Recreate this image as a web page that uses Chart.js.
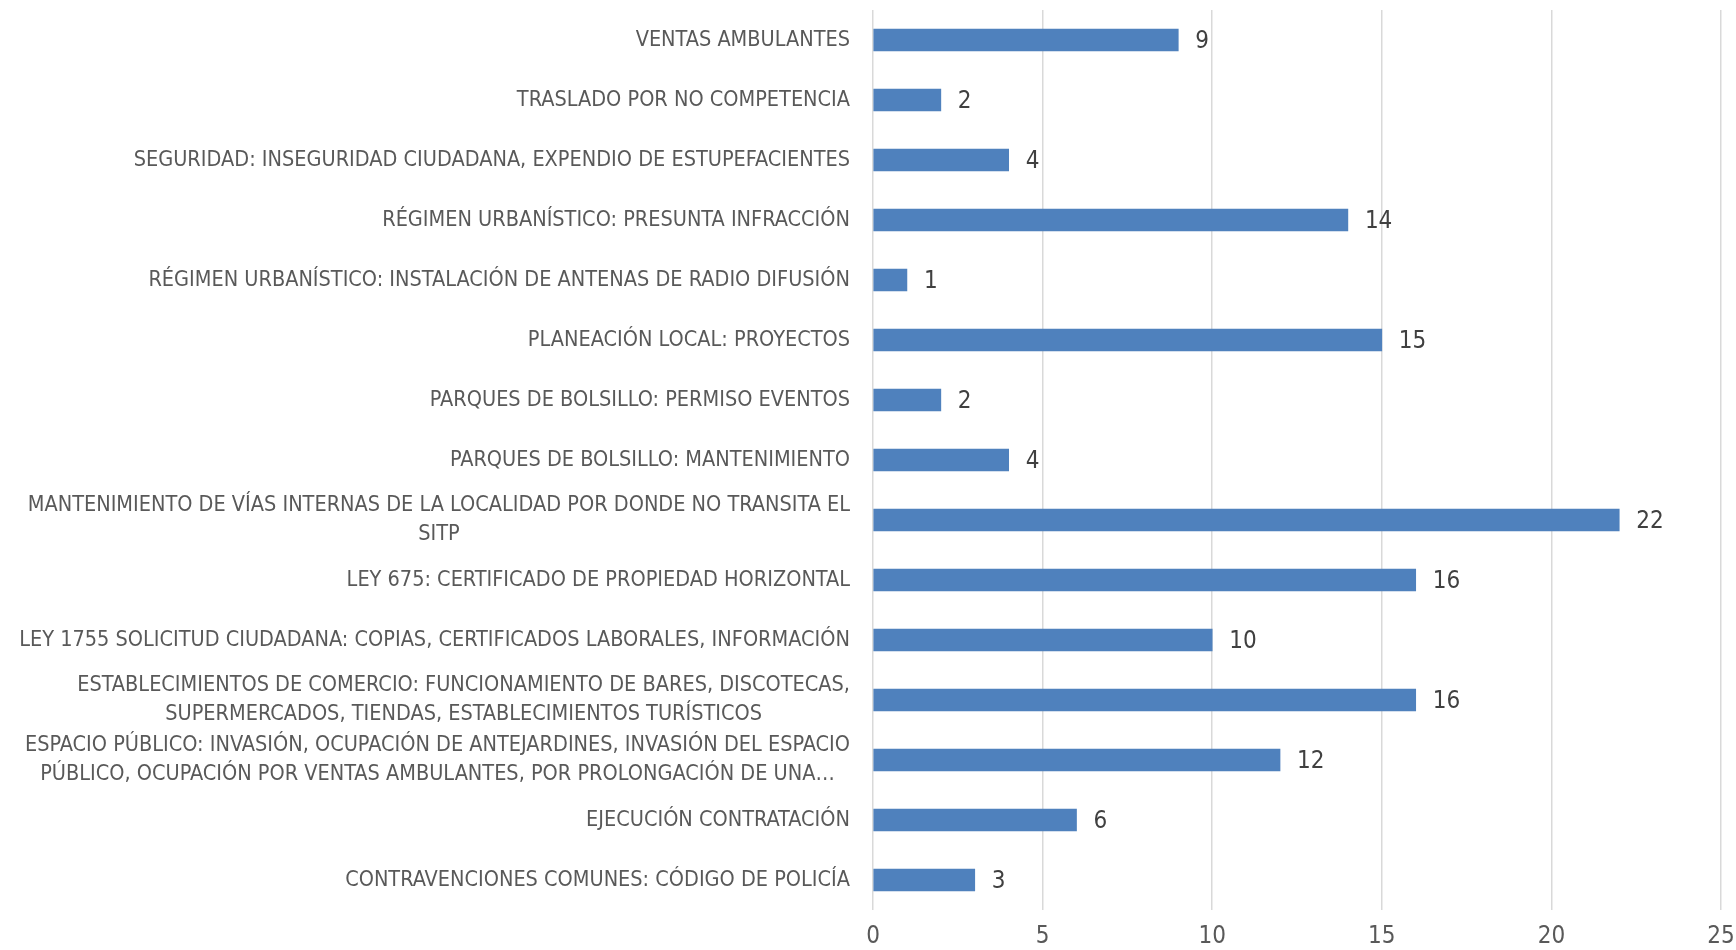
<!DOCTYPE html>
<html>
<head>
<meta charset="utf-8">
<script src="https://cdn.jsdelivr.net/npm/chart.js@4/dist/chart.umd.min.js"></script>
<style>
  html, body { margin: 0; padding: 0; background: #fff; }
  #wrap { width: 1736px; height: 950px; }
</style>
</head>
<body>
<div id="wrap"><canvas id="chart"></canvas></div>
<script>
// Categorias (de arriba a abajo)
const categorias = [
    ['VENTAS AMBULANTES'],
    ['TRASLADO POR NO COMPETENCIA'],
    ['SEGURIDAD: INSEGURIDAD CIUDADANA, EXPENDIO DE ESTUPEFACIENTES'],
    ['RÉGIMEN URBANÍSTICO: PRESUNTA INFRACCIÓN'],
    ['RÉGIMEN URBANÍSTICO: INSTALACIÓN DE ANTENAS DE RADIO DIFUSIÓN'],
    ['PLANEACIÓN LOCAL: PROYECTOS'],
    ['PARQUES DE BOLSILLO: PERMISO EVENTOS'],
    ['PARQUES DE BOLSILLO: MANTENIMIENTO'],
    ['MANTENIMIENTO DE VÍAS INTERNAS DE LA LOCALIDAD POR DONDE NO TRANSITA EL', 'SITP'],
    ['LEY 675: CERTIFICADO DE PROPIEDAD HORIZONTAL'],
    ['LEY 1755 SOLICITUD CIUDADANA: COPIAS, CERTIFICADOS LABORALES, INFORMACIÓN'],
    ['ESTABLECIMIENTOS DE COMERCIO: FUNCIONAMIENTO DE BARES, DISCOTECAS,', 'SUPERMERCADOS, TIENDAS, ESTABLECIMIENTOS TURÍSTICOS'],
    ['ESPACIO PÚBLICO: INVASIÓN, OCUPACIÓN DE ANTEJARDINES, INVASIÓN DEL ESPACIO', 'PÚBLICO, OCUPACIÓN POR VENTAS AMBULANTES, POR PROLONGACIÓN DE UNA…'],
    ['EJECUCIÓN CONTRATACIÓN'],
    ['CONTRAVENCIONES COMUNES: CÓDIGO DE POLICÍA']
];
const valores = [9, 2, 4, 14, 1, 15, 2, 4, 22, 16, 10, 16, 12, 6, 3];
const ticksX = [0, 5, 10, 15, 20, 25];

const FONT = '"Liberation Sans Narrow", "DejaVu Sans Condensed", "Open Sans", sans-serif';
const COLOR_TEXTO = '#595959';

// Etiquetas del eje Y centradas por bloque (estilo Excel)
const etiquetasY = {
    id: 'etiquetasY',
    afterDraw(chart) {
        const y = chart.scales.y;
        const ctx = chart.ctx;
        const derecha = chart.chartArea.left - 23;
        const lh = 29;
        ctx.save();
        ctx.font = '21.5px ' + FONT;
        ctx.fillStyle = COLOR_TEXTO;
        ctx.textBaseline = 'middle';
        ctx.textAlign = 'center';
        categorias.forEach((lineas, i) => {
            const cy = y.getPixelForTick(i);
            const ancho = Math.max(...lineas.map(l => ctx.measureText(l).width));
            const cx = derecha - ancho / 2;
            lineas.forEach((l, j) => {
                ctx.fillText(l, cx, cy - (lineas.length - 1) * lh / 2 + j * lh);
            });
        });
        ctx.restore();
    }
};

// Valores al final de cada barra
const valoresBarras = {
    id: 'valoresBarras',
    afterDatasetsDraw(chart) {
        const ctx = chart.ctx;
        const meta = chart.getDatasetMeta(0);
        ctx.save();
        ctx.font = '24px ' + FONT;
        ctx.fillStyle = '#404040';
        ctx.textBaseline = 'middle';
        ctx.textAlign = 'left';
        meta.data.forEach((bar, i) => {
            ctx.fillText(String(valores[i]), bar.x + 17, bar.y + 2);
        });
        ctx.restore();
    }
};

new Chart(document.getElementById('chart'), {
    type: 'bar',
    data: {
        labels: categorias,
        datasets: [{
            data: valores,
            backgroundColor: '#4F81BD',
            borderWidth: 0,
            barThickness: 22
        }]
    },
    options: {
        indexAxis: 'y',
        responsive: true,
        maintainAspectRatio: false,
        animation: false,
        layout: { padding: { top: 10, right: 15, left: 0, bottom: 0 } },
        plugins: {
            legend: { display: false },
            tooltip: { enabled: false }
        },
        scales: {
            x: {
                min: 0,
                max: 25,
                afterBuildTicks(scale) {
                    scale.ticks = ticksX.map(v => ({ value: v }));
                },
                afterFit(scale) {
                    scale.height = 40;
                    scale.paddingLeft = 0;
                    scale.paddingRight = 0;
                },
                border: { display: false },
                grid: { color: '#D9D9D9', lineWidth: 1.5, drawTicks: false },
                ticks: {
                    color: COLOR_TEXTO,
                    font: { family: FONT, size: 24 },
                    padding: 12
                }
            },
            y: {
                afterFit(scale) {
                    scale.width = 873;
                    scale.paddingTop = 0;
                    scale.paddingBottom = 0;
                },
                border: { display: false },
                grid: { display: false },
                ticks: { display: false }
            }
        }
    },
    plugins: [etiquetasY, valoresBarras]
});
</script>
</body>
</html>
